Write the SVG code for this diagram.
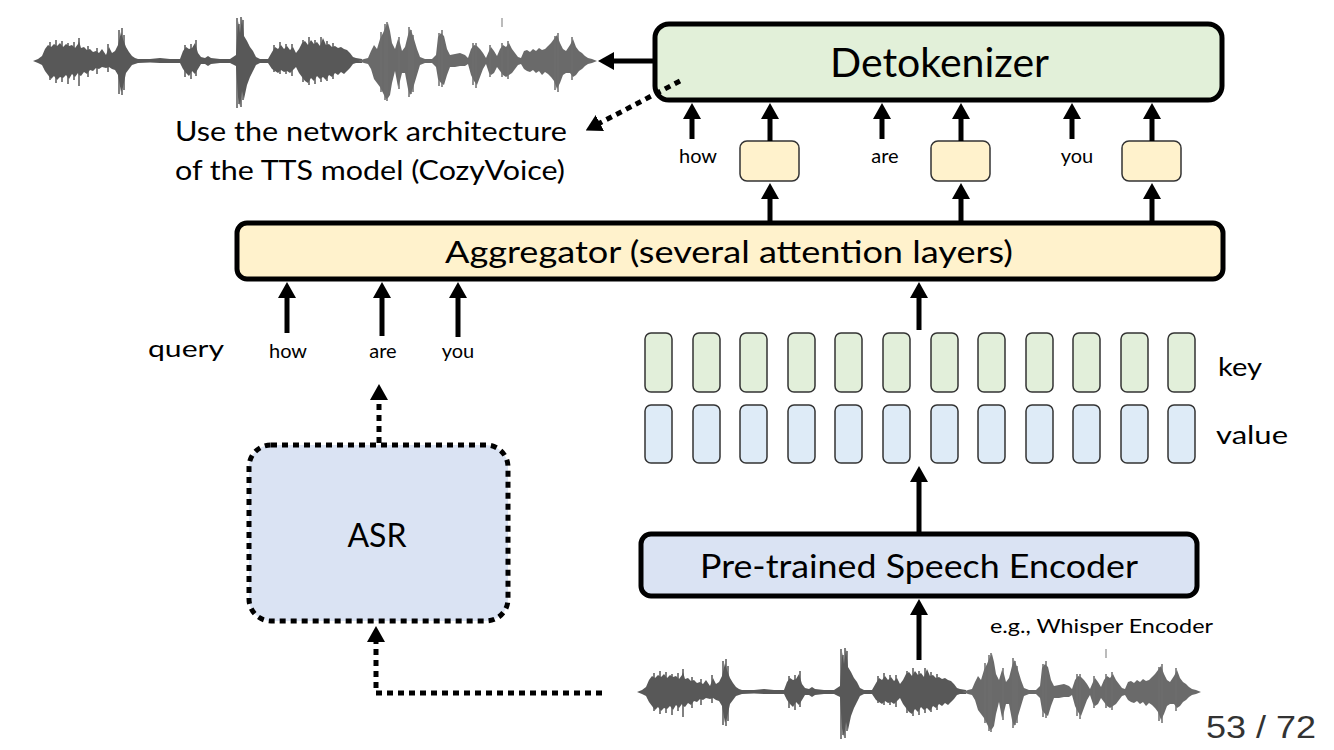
<svg xmlns="http://www.w3.org/2000/svg" xmlns:xlink="http://www.w3.org/1999/xlink" width="1334" height="750" viewBox="0 0 1334 750">
<style>
.lbl{font-family:Lato,"Open Sans","Liberation Sans",sans-serif;fill:#000}
.box{stroke:#000;stroke-width:5}
.tok{stroke:#333;stroke-width:1.5}
.arr{stroke:#000;stroke-width:5;fill:none;marker-end:url(#ah)}
.dotbox{stroke:#000;stroke-width:5;fill:#DAE3F3;stroke-dasharray:6 5}
.dotarr{stroke:#000;stroke-width:5;fill:none;stroke-dasharray:6 5;marker-end:url(#ah)}
.key{fill:#E2EFDA}
.val{fill:#DEEBF7}
.sp1{stroke:#585858;stroke-width:1.5;fill:none}
.sp2{stroke:#6e6e6e;stroke-width:1.5;fill:none}
</style>
<defs>
<marker id="ah" viewBox="0 0 16 18" refX="1" refY="9" markerWidth="16" markerHeight="18" markerUnits="userSpaceOnUse" orient="auto"><path d="M0,0 L16,9 L0,18 Z" fill="#000"/></marker>
<g id="wave">
<path fill="#585858" d="M33,61 L38,59 L42,56 L45,49 L48,45 L51,47 L54,44 L57,46 L60,43 L63,47 L66,44 L69,46 L72,45 L75,48 L78,44 L79,41 L81,48 L84,47 L87,50 L90,49 L93,52 L96,51 L99,53 L102,49 L106,55 L109,47 L112,53 L115,51 L118,45 L121,32 L123,39 L126,47 L129,52 L132,56 L135,58 L138,59 L150,59 L160,58 L170,59 L180,59 L183,51 L186,47 L189,49 L192,48 L195,43 L198,53 L201,57 L205,58 L208,56 L211,58 L220,59 L230,59 L236,55 L238,21 L240,33 L242,18 L244,36 L247,41 L250,47 L253,51 L256,57 L260,59 L268,59 L272,52 L275,47 L278,49 L281,45 L284,49 L287,46 L290,50 L293,47 L296,53 L299,49 L302,43 L305,41 L308,45 L311,40 L314,44 L317,42 L320,46 L323,38 L326,45 L329,44 L332,47 L335,46 L338,48 L341,47 L344,49 L347,50 L350,53 L353,57 L356,58 L362,59 L362,63 L356,63 L353,64 L350,68 L347,71 L344,74 L341,72 L338,75 L335,73 L332,77 L329,75 L326,80 L323,77 L320,79 L317,76 L314,81 L311,78 L308,83 L305,81 L302,77 L299,73 L296,67 L293,70 L290,73 L287,71 L284,72 L281,70 L278,73 L275,71 L272,69 L268,63 L260,63 L256,65 L253,71 L250,77 L247,85 L244,99 L242,91 L240,106 L238,97 L236,66 L230,63 L220,63 L211,64 L208,66 L205,64 L201,64 L198,69 L195,74 L192,71 L189,76 L186,73 L183,69 L180,63 L170,63 L160,63 L150,62.5 L138,63 L135,64 L132,65 L129,69 L126,73 L123,87 L121,92 L118,75 L115,70 L112,69 L109,67 L106,68 L102,67 L99,69 L96,68 L93,71 L90,70 L87,74 L84,72 L81,76 L79,75 L78,73 L75,77 L72,74 L69,79 L66,75 L63,78 L60,77 L57,80 L54,76 L51,79 L48,75 L45,71 L42,65 L38,63 Z"/>
<path fill="#6a6a6a" d="M358,61 L364,59 L368,58 L371,51 L374,45 L377,49 L380,39 L383,33 L386,26 L388,23 L390,31 L392,43 L395,49 L398,39 L400,43 L402,51 L405,47 L408,35 L410,29 L412,33 L414,39 L417,49 L420,57 L425,59 L432,59 L436,55 L438,37 L441,33 L444,36 L447,49 L450,55 L455,54 L460,53 L465,55 L468,58 L471,49 L474,45 L477,46 L480,49 L483,53 L486,58 L489,51 L491,47 L494,51 L497,56 L500,49 L503,45 L506,47 L509,43 L512,49 L515,53 L518,57 L521,58 L524,51 L527,50 L530,52 L533,49 L536,51 L539,48 L542,50 L545,49 L548,46 L551,43 L554,39 L557,35 L560,43 L563,49 L566,51 L570,45 L573,39 L576,47 L579,51 L582,53 L585,56 L588,58 L592,59 L597,61 L592,63 L588,64 L585,66 L582,69 L579,71 L576,75 L573,77 L570,73 L566,73 L563,75 L560,83 L557,89 L554,81 L551,77 L548,74 L545,72 L542,75 L539,71 L536,73 L533,70 L530,72 L527,71 L524,69 L521,64 L518,65 L515,69 L512,73 L509,75 L506,77 L503,75 L500,71 L497,67 L494,73 L491,75 L489,73 L486,64 L483,69 L480,77 L477,85 L474,81 L471,75 L468,64 L465,66 L460,66 L455,67 L450,67 L447,75 L444,85 L441,83 L438,79 L436,67 L432,63 L425,63 L420,65 L417,75 L414,85 L412,91 L410,95 L408,89 L405,73 L402,73 L400,81 L398,87 L395,71 L392,83 L390,95 L388,98 L386,99 L383,93 L380,87 L377,83 L374,79 L371,69 L368,64 L364,63 Z"/>
<path class="sp1" d="M50,42V80 M56,40V83 M62,41V82 M68,43V84 M74,42V80 M79,38V86 M88,46V77 M97,48V74 M108,44V72 M119,30V94 M122,28V95 M124,35V90 M185,45V77 M191,44V79 M196,40V76 M237,18V108 M239,24V104 M241,17V107 M243,20V100 M274,45V72 M280,42V74 M286,44V74 M292,44V76 M303,40V82 M309,37V85 M315,40V84 M321,37V82 M327,41V81 M333,43V79"/>
<path class="sp2" d="M381,32V92 M385,24V100 M387,22V101 M399,37V89 M409,27V97 M411,30V94 M413,35V92 M439,33V86 M442,30V87 M473,43V85 M476,43V88 M490,45V77 M502,43V77 M508,41V79 M555,36V90 M558,33V92 M572,37V80"/>
<line x1="502" y1="18" x2="502" y2="27" stroke="#bbb" stroke-width="2"/>
</g>
</defs>
<rect width="1334" height="750" fill="#fff"/>

<g id="waveform-output"><use xlink:href="#wave" href="#wave"/></g>
<g id="waveform-input"><use xlink:href="#wave" href="#wave" transform="translate(604,631)"/></g>

<g id="detokenizer">
<rect class="box" x="655" y="24" width="567" height="76" rx="14" fill="#E2F0D9"/>
<text class="lbl" x="830" y="77" font-size="40" textLength="219" lengthAdjust="spacingAndGlyphs">Detokenizer</text>
</g>

<g id="note">
<text class="lbl" x="175" y="141" font-size="27" textLength="392" lengthAdjust="spacingAndGlyphs">Use the network architecture</text>
<text class="lbl" x="175" y="180" font-size="27" textLength="390" lengthAdjust="spacingAndGlyphs">of the TTS model (CozyVoice)</text>
</g>

<g id="out-tokens">
<rect class="tok" x="740" y="141" width="59" height="40" rx="7" fill="#FFF2CC"/>
<rect class="tok" x="931" y="141" width="59" height="40" rx="7" fill="#FFF2CC"/>
<rect class="tok" x="1122" y="141" width="59" height="40" rx="7" fill="#FFF2CC"/>
<text class="lbl" x="698" y="163" font-size="20" text-anchor="middle">how</text>
<text class="lbl" x="885" y="163" font-size="20" text-anchor="middle">are</text>
<text class="lbl" x="1077" y="163" font-size="20" text-anchor="middle">you</text>
</g>

<g id="aggregator">
<rect class="box" x="237" y="223" width="986" height="56" rx="10" fill="#FFF2CC"/>
<text class="lbl" x="445" y="263" font-size="31" textLength="568" lengthAdjust="spacingAndGlyphs">Aggregator (several attention layers)</text>
</g>

<g id="query">
<text class="lbl" x="148" y="357" font-size="24" textLength="76" lengthAdjust="spacingAndGlyphs">query</text>
<text class="lbl" x="288" y="358" font-size="20" text-anchor="middle">how</text>
<text class="lbl" x="383" y="358" font-size="20" text-anchor="middle">are</text>
<text class="lbl" x="458" y="358" font-size="20" text-anchor="middle">you</text>
</g>

<g id="keys">
<rect class="tok key" x="645" y="333" width="27" height="59" rx="6"/>
<rect class="tok key" x="693" y="333" width="27" height="59" rx="6"/>
<rect class="tok key" x="740" y="333" width="27" height="59" rx="6"/>
<rect class="tok key" x="788" y="333" width="27" height="59" rx="6"/>
<rect class="tok key" x="835" y="333" width="27" height="59" rx="6"/>
<rect class="tok key" x="883" y="333" width="27" height="59" rx="6"/>
<rect class="tok key" x="931" y="333" width="27" height="59" rx="6"/>
<rect class="tok key" x="978" y="333" width="27" height="59" rx="6"/>
<rect class="tok key" x="1026" y="333" width="27" height="59" rx="6"/>
<rect class="tok key" x="1073" y="333" width="27" height="59" rx="6"/>
<rect class="tok key" x="1121" y="333" width="27" height="59" rx="6"/>
<rect class="tok key" x="1168" y="333" width="27" height="59" rx="6"/>
<text class="lbl" x="1218" y="376" font-size="25" textLength="44" lengthAdjust="spacingAndGlyphs">key</text>
</g>

<g id="values">
<rect class="tok val" x="645" y="405" width="27" height="58" rx="6"/>
<rect class="tok val" x="693" y="405" width="27" height="58" rx="6"/>
<rect class="tok val" x="740" y="405" width="27" height="58" rx="6"/>
<rect class="tok val" x="788" y="405" width="27" height="58" rx="6"/>
<rect class="tok val" x="835" y="405" width="27" height="58" rx="6"/>
<rect class="tok val" x="883" y="405" width="27" height="58" rx="6"/>
<rect class="tok val" x="931" y="405" width="27" height="58" rx="6"/>
<rect class="tok val" x="978" y="405" width="27" height="58" rx="6"/>
<rect class="tok val" x="1026" y="405" width="27" height="58" rx="6"/>
<rect class="tok val" x="1073" y="405" width="27" height="58" rx="6"/>
<rect class="tok val" x="1121" y="405" width="27" height="58" rx="6"/>
<rect class="tok val" x="1168" y="405" width="27" height="58" rx="6"/>
<text class="lbl" x="1216" y="444" font-size="25" textLength="72" lengthAdjust="spacingAndGlyphs">value</text>
</g>

<g id="encoder">
<rect class="box" x="641" y="534" width="556" height="62" rx="10" fill="#DAE3F3"/>
<text class="lbl" x="700" y="578" font-size="32" textLength="438" lengthAdjust="spacingAndGlyphs">Pre-trained Speech Encoder</text>
<text class="lbl" x="990" y="633" font-size="20" textLength="223" lengthAdjust="spacingAndGlyphs">e.g., Whisper Encoder</text>
</g>

<g id="asr">
<rect class="dotbox" x="249" y="445" width="259" height="176" rx="22"/>
<text class="lbl" x="377" y="547" font-size="32" text-anchor="middle">ASR</text>
</g>

<g id="connectors">
<line class="arr" x1="653" y1="61" x2="613" y2="61"/>
<line class="dotarr" x1="680" y1="81" x2="599" y2="123.5"/>
<line class="arr" x1="692" y1="139" x2="692" y2="118"/>
<line class="arr" x1="882" y1="139" x2="882" y2="118"/>
<line class="arr" x1="1072" y1="139" x2="1072" y2="118"/>
<line class="arr" x1="770" y1="141" x2="770" y2="118"/>
<line class="arr" x1="961" y1="141" x2="961" y2="118"/>
<line class="arr" x1="1152" y1="141" x2="1152" y2="118"/>
<line class="arr" x1="770" y1="222" x2="770" y2="198"/>
<line class="arr" x1="961" y1="222" x2="961" y2="198"/>
<line class="arr" x1="1152" y1="222" x2="1152" y2="198"/>
<line class="arr" x1="287" y1="333" x2="287" y2="297"/>
<line class="arr" x1="382" y1="336" x2="382" y2="297"/>
<line class="arr" x1="458" y1="337" x2="458" y2="297"/>
<line class="arr" x1="919" y1="330" x2="919" y2="297"/>
<line class="arr" x1="919" y1="533" x2="919" y2="481"/>
<line class="arr" x1="919" y1="660" x2="919" y2="614"/>
<line class="dotarr" x1="379" y1="443" x2="379" y2="399"/>
<path class="dotarr" d="M602,693 H376 V641"/>
</g>

<text x="1206" y="738" font-family="'Liberation Sans',Arial,sans-serif" font-size="32" fill="#333" textLength="110" lengthAdjust="spacingAndGlyphs">53 / 72</text>
</svg>
